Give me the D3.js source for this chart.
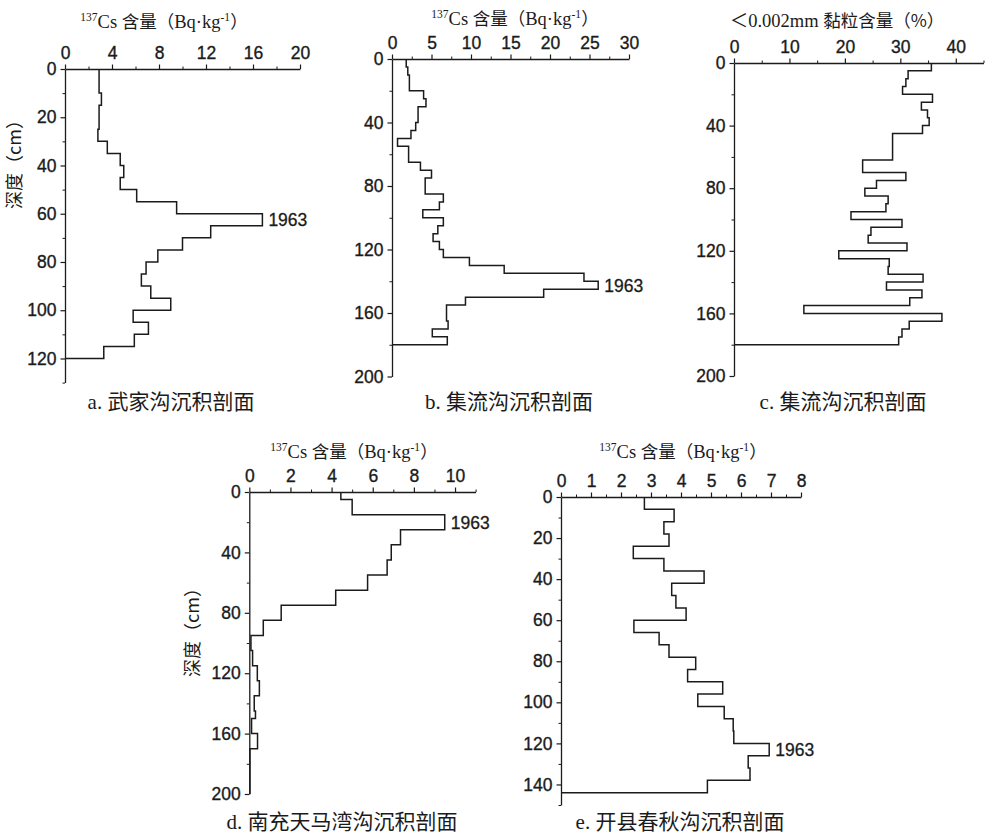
<!DOCTYPE html>
<html><head><meta charset="utf-8">
<script src="https://cdn.jsdelivr.net/npm/d3@7/dist/d3.min.js"></script>
<style>
html,body{margin:0;padding:0;background:#fff;}
svg{display:block;}
</style></head>
<body>
<svg id="chart" width="991" height="835"></svg>
<script>
// ---------- DATA ----------
// depth boundaries (cm) and values for each interval
const depthA = [0,10,15,25,30,35,40,45,50,55,60,65,70,75,80,85,90,95,100,105,110,115,120];
const valueA = [2.9,3.1,2.9,2.8,3.6,4.7,5.0,4.7,6.1,9.5,16.8,12.4,10.0,7.9,6.9,6.5,7.3,9.0,5.8,7.1,5.9,3.3];

const depthB = [0,5,10,20,25,30,40,45,50,55,65,70,75,85,90,95,100,105,110,115,120,125,130,135,140,145,150,155,165,170,175,180];
const valueB = [1.8,2.0,2.2,4.0,4.3,3.3,3.0,2.4,0.7,2.1,3.6,5.0,4.2,6.5,6.0,3.9,6.5,5.8,5.2,6.0,6.5,9.8,14.2,24.3,26.1,19.2,9.3,6.9,7.1,5.1,7.0];

const depthC = [0,5,10,15,20,25,30,35,40,45,62,70,75,80,85,90,95,100,105,110,115,120,125,130,135,140,145,150,155,160,165,170,175,180];
const valueC = [35.6,31.4,31.0,30.4,35.8,33.8,34.9,35.2,34.0,28.6,23.2,31.0,25.7,23.6,27.8,27.4,21.1,30.3,24.7,24.2,31.2,18.9,28.0,27.8,34.1,27.5,33.9,31.7,12.6,37.5,31.6,30.3,29.7];

const depthD = [0,5,15,25,35,45,55,65,75,85,95,105,115,125,135,145,150,160,170,200];
const valueD = [4.45,5.0,9.5,7.35,6.9,6.7,5.75,4.2,1.55,0.68,0.08,0.16,0.39,0.49,0.24,0.3,0.11,0.4,0.03];

const depthE = [0,6,12,18,24,30,36,42,48,54,60,66,72,78,84,90,96,102,108,114,120,126,132,138,144];
const valueE = [2.78,3.77,3.43,3.6,2.41,3.43,4.77,3.69,3.83,4.17,2.43,3.27,3.6,4.49,4.22,5.39,4.56,5.44,5.74,5.76,6.94,6.24,6.3,4.88];

// tick labels
const xTicksA = [0,4,8,12,16,20];
const yTicksA = [0,20,40,60,80,100,120];
const xTicksB = [0,5,10,15,20,25,30];
const yTicksB = [0,40,80,120,160,200];
const xTicksC = [0,10,20,30,40];
const yTicksC = [0,40,80,120,160,200];
const xTicksD = [0,2,4,6,8,10];
const yTicksD = [0,40,80,120,160,200];
const xTicksE = [0,1,2,3,4,5,6,7,8];
const yTicksE = [0,20,40,60,80,100,120,140];

const captions = ["a. 武家沟沉积剖面","b. 集流沟沉积剖面","c. 集流沟沉积剖面","d. 南充天马湾沟沉积剖面","e. 开县春秋沟沉积剖面"];
const markLabel = "1963";
const depthLabel = "深度（cm）";

// ---------- LAYOUT ----------
const panels = [
 {depths:depthA, values:valueA, xTicks:xTicksA, yTicks:yTicksA, xMinorStep:2, yMinorStep:10,
  xDom:[0,20], yDom:[0,130], xr:[65,300], yr:[69,382.6], close:true, title:'cs', tx:164, ty:28,
  cap:0, cx:171, cy:409, ylab:{x:15,y:160}},
 {depths:depthB, values:valueB, xTicks:xTicksB, yTicks:yTicksB, xMinorStep:2.5, yMinorStep:20,
  xDom:[0,30], yDom:[0,200], xr:[392,629], yr:[59,376.5], close:true, title:'cs', tx:515, ty:25,
  cap:1, cx:509, cy:409},
 {depths:depthC, values:valueC, xTicks:xTicksC, yTicks:yTicksC, xMinorStep:5, yMinorStep:20,
  xDom:[0,45], yDom:[0,200], xr:[734,983.5], yr:[63,376], close:true, title:'clay', tx:837, ty:27,
  cap:2, cx:843, cy:409, noMark:true},
 {depths:depthD, values:valueD, xTicks:xTicksD, yTicks:yTicksD, xMinorStep:1, yMinorStep:20,
  xDom:[0,11], yDom:[0,200], xr:[249.3,475.6], yr:[492,794], close:false, title:'cs', tx:354, ty:458,
  cap:3, cx:342, cy:829, ylab:{x:193,y:628}},
 {depths:depthE, values:valueE, xTicks:xTicksE, yTicks:yTicksE, xMinorStep:0.5, yMinorStep:10,
  xDom:[0,8], yDom:[0,150], xr:[561,801], yr:[497,805], close:true, title:'cs', tx:683, ty:458,
  cap:4, cx:680, cy:829}
];

const svg = d3.select('#chart');
const INK = '#1b1b1b';
const sansFont = '"Liberation Sans", Arial, sans-serif';
const serifFont = '"Liberation Serif", "Times New Roman", "Noto Sans CJK SC", serif';
const cjkFont = '"Noto Sans CJK SC", sans-serif';

function minorVals(dom, step, majors){
  const out=[];
  for(let v=dom[0]; v<=dom[1]+1e-9; v+=step){
    const r=Math.round(v*1000)/1000;
    if(!majors.some(m=>Math.abs(m-r)<1e-6)) out.push(r);
  }
  return out;
}

panels.forEach(p=>{
  const x = d3.scaleLinear().domain(p.xDom).range(p.xr);
  const y = d3.scaleLinear().domain(p.yDom).range(p.yr);
  const g = svg.append('g');

  // minor ticks
  g.append('g').attr('transform',`translate(0,${p.yr[0]})`)
    .call(d3.axisTop(x).tickValues(minorVals(p.xDom,p.xMinorStep,p.xTicks)).tickSize(2.5).tickSizeOuter(0).tickFormat(''))
    .call(a=>a.select('.domain').remove());
  g.append('g').attr('transform',`translate(${p.xr[0]},0)`)
    .call(d3.axisLeft(y).tickValues(minorVals(p.yDom,p.yMinorStep,p.yTicks)).tickSize(2.5).tickSizeOuter(0).tickFormat(''))
    .call(a=>a.select('.domain').remove());

  // major axes
  const xa = g.append('g').attr('transform',`translate(0,${p.yr[0]})`)
    .call(d3.axisTop(x).tickValues(p.xTicks).tickSize(4.5).tickPadding(6).tickSizeOuter(0).tickFormat(d3.format('d')));
  const ya = g.append('g').attr('transform',`translate(${p.xr[0]},0)`)
    .call(d3.axisLeft(y).tickValues(p.yTicks).tickSize(4.5).tickPadding(4).tickSizeOuter(0).tickFormat(d3.format('d')));
  [xa,ya].forEach(a=>{
    a.selectAll('text').attr('font-family',sansFont).attr('font-size',17.5).attr('fill',INK)
      .attr('stroke',INK).attr('stroke-width',0.35);
    a.selectAll('line').attr('stroke',INK).attr('stroke-width',1.2);
    a.select('.domain').attr('stroke',INK).attr('stroke-width',1.3);
  });
  svg.selectAll('g .tick line').attr('stroke',INK);

  // step profile
  const pts=[];
  p.values.forEach((v,i)=>{
    pts.push([v,p.depths[i]]);
    pts.push([v,p.depths[i+1]]);
  });
  if(p.close) pts.push([0,p.depths[p.depths.length-1]]);
  g.append('path').datum(pts)
    .attr('d',d3.line().x(d=>x(d[0])).y(d=>y(d[1])))
    .attr('fill','none').attr('stroke',INK).attr('stroke-width',1.5);

  // 1963 mark at peak
  if(!p.noMark){
    const im = d3.maxIndex(p.values);
    const mid = (p.depths[im]+p.depths[im+1])/2;
    g.append('text').attr('x',x(p.values[im])+6).attr('y',y(mid)).attr('dy','0.36em')
      .attr('font-family',sansFont).attr('font-size',17.5).attr('fill',INK)
      .attr('stroke',INK).attr('stroke-width',0.3).text(markLabel);
  }

  // title
  const t = g.append('text').attr('x',p.tx).attr('y',p.ty).attr('text-anchor','middle')
    .attr('font-family',serifFont).attr('fill',INK).attr('font-size',18.5);
  if(p.title==='cs'){
    t.append('tspan').attr('font-size',11.5).attr('dy',-7).text('137');
    t.append('tspan').attr('dy',7).text('Cs ');
    t.append('tspan').attr('font-family',cjkFont).attr('font-size',17.5).text('含量（');
    t.append('tspan').text('Bq·kg');
    t.append('tspan').attr('font-size',11.5).attr('dy',-7).text('-1');
    t.append('tspan').attr('dy',7).attr('font-family',cjkFont).attr('font-size',17.5).text('）');
  } else {
    t.append('tspan').text('＜0.002mm ');
    t.append('tspan').attr('font-family',cjkFont).attr('font-size',17.5).text('黏粒含量（%）');
  }

  // caption
  g.append('text').attr('x',p.cx).attr('y',p.cy).attr('text-anchor','middle')
    .attr('font-family',serifFont).attr('font-size',21).attr('fill',INK).text(captions[p.cap]);

  // depth label
  if(p.ylab){
    g.append('text').attr('transform',`translate(${p.ylab.x},${p.ylab.y}) rotate(-90)`)
      .attr('text-anchor','middle').attr('dy','0.35em')
      .attr('font-family',cjkFont).attr('font-size',18).attr('fill',INK).text(depthLabel);
  }
});
</script>
</body></html>
